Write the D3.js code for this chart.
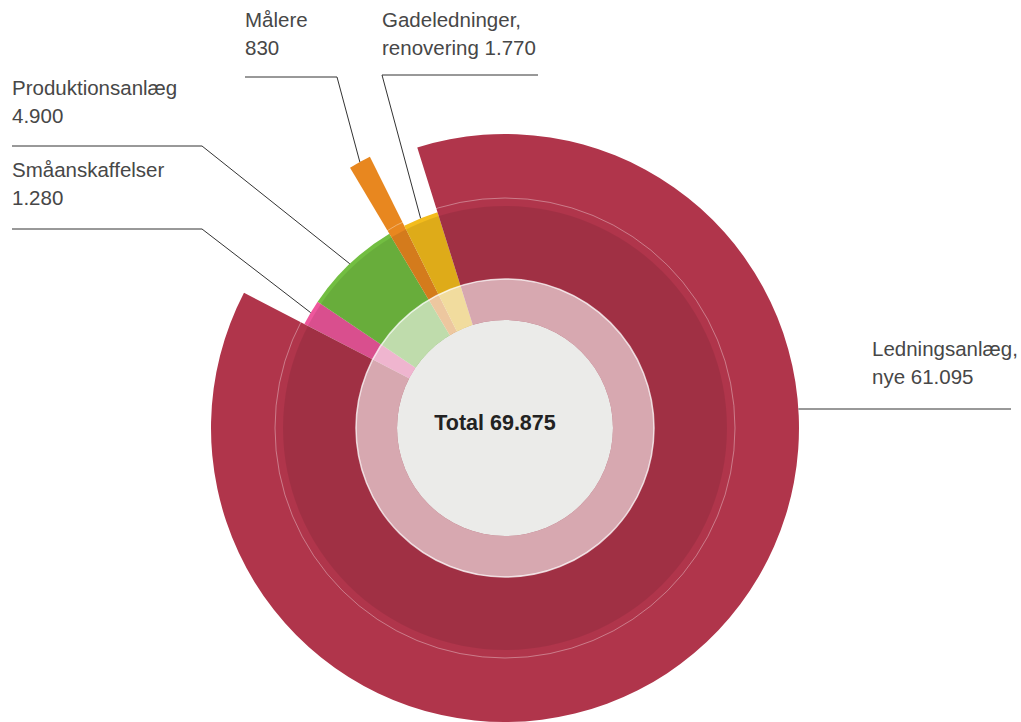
<!DOCTYPE html>
<html>
<head>
  <meta charset="utf-8">
  <style>
    body { margin: 0; background: #fff; }
    svg text { font-family: "Liberation Sans", Arial, sans-serif; }
    .label { font-size: 20.5px; fill: #474747; }
    .leader { stroke: #333; stroke-width: 1px; fill: none; }
    .total { font-size: 21.5px; font-weight: bold; fill: #222; }
  </style>
</head>
<body>
<script src="https://d3js.org/d3.v7.min.js"></script>
<script>
// data
var categories = ["Småanskaffelser", "Produktionsanlæg", "Målere", "Gadeledninger, renovering", "Ledningsanlæg, nye"];
var values = [1280, 4900, 830, 1770, 61095];
var colors = ["#EE579C", "#72BE41", "#E8871F", "#F3BC1C", "#B0354B"];
var totalLabel = "Total";

var width = 1021, height = 722;
var cx = 505, cy = 428;

// layout (outer radius per slice, label spots)
var outerR = { "Målere": 303, "Ledningsanlæg, nye": 294 };
var defaultR = 226;
var labelPos = {
  "Småanskaffelser":           { x: 12,  y: 177, lineY: 229, x0: 12,  elbow: 202 },
  "Produktionsanlæg":          { x: 12,  y: 95,  lineY: 146, x0: 12,  elbow: 202 },
  "Målere":                    { x: 245, y: 27,  lineY: 77,  x0: 245, elbow: 337 },
  "Gadeledninger, renovering": { x: 382, y: 27,  lineY: 75,  x0: 538, elbow: 382 },
  "Ledningsanlæg, nye":        { x: 872, y: 356, lineY: 409, x0: 1011, elbow: null }
};

var da = d3.formatLocale({ decimal: ",", thousands: ".", grouping: [3], currency: ["", " kr"] });
var fmt = da.format(",d");

var svg = d3.select("body").append("svg")
    .attr("width", width)
    .attr("height", height);

var g = svg.append("g")
    .attr("transform", "translate(" + cx + "," + cy + ")");

var rows = categories.map(function (c, i) { return { name: c, value: values[i], color: colors[i] }; });

var deg = Math.PI / 180;
var pie = d3.pie()
    .sort(null)
    .value(function (d) { return d.value; })
    .startAngle(-62.6 * deg)
    .endAngle(297.4 * deg);

var arcs = pie(rows);

function rOf(d) { return outerR[d.data.name] || defaultR; }

var arc = d3.arc()
    .innerRadius(0)
    .outerRadius(rOf);

g.selectAll("path.slice")
  .data(arcs)
  .enter().append("path")
    .attr("class", "slice")
    .attr("d", arc)
    .style("fill", function (d) { return d.data.color; });

// darker inner zone
g.append("circle")
    .attr("r", 222)
    .style("fill", "#000")
    .style("fill-opacity", 0.085);

// thin reference ring
g.append("circle")
    .attr("r", 230)
    .style("fill", "none")
    .style("stroke", "#fff")
    .style("stroke-opacity", 0.35)
    .style("stroke-width", 1);

// light ring
g.append("path")
    .attr("d", d3.arc().innerRadius(108).outerRadius(149).startAngle(0).endAngle(2 * Math.PI)())
    .style("fill", "#fff")
    .style("fill-opacity", 0.58);

g.append("circle")
    .attr("r", 149)
    .style("fill", "none")
    .style("stroke", "#fff")
    .style("stroke-opacity", 0.75)
    .style("stroke-width", 1.5);

// centre
g.append("circle")
    .attr("r", 108)
    .style("fill", "#EBEBE9");

var total = d3.sum(values);
g.append("text")
    .attr("class", "total")
    .attr("x", -10)
    .attr("y", 2)
    .style("text-anchor", "middle")
    .text(totalLabel + " " + fmt(total));

// leader lines + labels
arcs.forEach(function (d) {
  var p = labelPos[d.data.name];
  var r = rOf(d);
  var pts;
  if (p.elbow === null) {
    // horizontal line from the arc edge
    var dy = p.lineY - cy;
    var xEdge = cx + Math.sqrt(r * r - dy * dy);
    pts = [[xEdge, p.lineY], [p.x0, p.lineY]];
  } else {
    var a = (d.startAngle + d.endAngle) / 2;
    var tip = [cx + Math.sin(a) * r, cy - Math.cos(a) * r];
    pts = [[p.x0, p.lineY], [p.elbow, p.lineY], tip];
  }
  svg.append("path")
      .attr("class", "leader")
      .attr("d", d3.line()(pts));

  var parts = d.data.name.split(", ");
  var line1 = parts.length > 1 ? parts[0] + "," : parts[0];
  var line2 = (parts.length > 1 ? parts[1] + " " : "") + fmt(d.data.value);
  var t = svg.append("text")
      .attr("class", "label")
      .attr("x", p.x)
      .attr("y", p.y);
  t.append("tspan").attr("x", p.x).text(line1);
  t.append("tspan").attr("x", p.x).attr("dy", 28).text(line2);
});
</script>
</body>
</html>
